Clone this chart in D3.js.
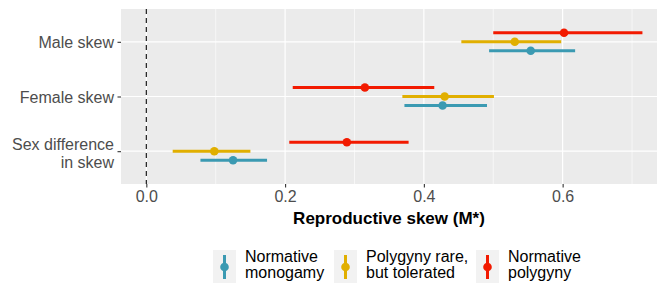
<!DOCTYPE html>
<html>
<head>
<meta charset="utf-8">
<script src="https://cdn.jsdelivr.net/npm/d3@7"></script>
<style>
  body { margin: 0; background: #fff; }
  text { font-family: "Liberation Sans", Arial, sans-serif; }
</style>
</head>
<body>
<div class="chart"></div>
<script>
// categories, top to bottom
const measures = ["Male skew", "Female skew", "Sex difference in skew"];
const groups = ["Normative monogamy", "Polygyny rare, but tolerated", "Normative polygyny"];
const groupColors = ["#3B9AB2", "#E1AF00", "#F21A00"];
const xTicks = [0, 0.2, 0.4, 0.6];

// estimates per group, in order of measures
const monoEst = [0.554, 0.427, 0.125];
const monoLo = [0.494, 0.372, 0.078];
const monoHi = [0.618, 0.491, 0.174];

const rareEst = [0.531, 0.430, 0.098];
const rareLo = [0.454, 0.369, 0.038];
const rareHi = [0.598, 0.501, 0.150];

const polyEst = [0.602, 0.315, 0.289];
const polyLo = [0.500, 0.211, 0.206];
const polyHi = [0.715, 0.415, 0.378];

const series = [
  { est: monoEst, lo: monoLo, hi: monoHi },
  { est: rareEst, lo: rareLo, hi: rareHi },
  { est: polyEst, lo: polyLo, hi: polyHi }
];

const W = 665, H = 288;
const margin = { top: 9, right: 8, bottom: 104, left: 121 };
const pw = W - margin.left - margin.right;
const ph = H - margin.top - margin.bottom;
const fs = "16px";

const svg = d3.select(".chart").append("svg")
  .attr("width", W)
  .attr("height", H);

const x = d3.scaleLinear().domain([-0.0365, 0.736]).range([0, pw]);
const y = d3.scalePoint().domain(measures).range([0, ph]).padding(0.6);
// dodge offsets: monogamy below, polygyny above
const dodge = d3.scalePoint().domain(groups).range([9, -9]);

const g = svg.append("g").attr("transform", `translate(${margin.left},${margin.top})`);

g.append("rect").attr("width", pw).attr("height", ph).attr("fill", "#EBEBEB");

// minor grid
g.selectAll("line.minor").data([0.1, 0.3, 0.5, 0.7]).join("line")
  .attr("x1", d => x(d)).attr("x2", d => x(d))
  .attr("y1", 0).attr("y2", ph)
  .attr("stroke", "#fff").attr("stroke-width", 0.6);

// major grid
g.selectAll("line.majx").data(xTicks).join("line")
  .attr("x1", d => x(d)).attr("x2", d => x(d))
  .attr("y1", 0).attr("y2", ph)
  .attr("stroke", "#fff").attr("stroke-width", 1.2);

g.selectAll("line.majy").data(measures).join("line")
  .attr("x1", 0).attr("x2", pw)
  .attr("y1", d => y(d)).attr("y2", d => y(d))
  .attr("stroke", "#fff").attr("stroke-width", 1.2);

// reference line at zero
g.append("line")
  .attr("x1", x(0)).attr("x2", x(0))
  .attr("y1", 0).attr("y2", ph)
  .attr("stroke", "#1a1a1a").attr("stroke-width", 1.2)
  .attr("stroke-dasharray", "5,4");

// pointranges
series.forEach((s, gi) => {
  const col = groupColors[gi];
  const sg = g.append("g");
  measures.forEach((m, mi) => {
    const yy = y(m) + dodge(groups[gi]);
    sg.append("line")
      .attr("x1", x(s.lo[mi])).attr("x2", x(s.hi[mi]))
      .attr("y1", yy).attr("y2", yy)
      .attr("stroke", col).attr("stroke-width", 3);
    sg.append("circle")
      .attr("cx", x(s.est[mi])).attr("cy", yy).attr("r", 4.3)
      .attr("fill", col);
  });
});

// x axis
const xAxis = g.append("g")
  .attr("transform", `translate(0,${ph})`)
  .call(d3.axisBottom(x).tickValues(xTicks).tickFormat(d3.format(".1f")).tickSize(3.5).tickPadding(3));
xAxis.select(".domain").remove();
xAxis.selectAll("line").attr("stroke", "#333").attr("stroke-width", 1.1);
xAxis.selectAll("text").attr("fill", "#4d4d4d").style("font-size", fs)
  .style("font-family", "'Liberation Sans', Arial, sans-serif");

// y axis
const yAxis = g.append("g")
  .call(d3.axisLeft(y).tickSize(3.5).tickPadding(3).tickFormat(""));
yAxis.select(".domain").remove();
yAxis.selectAll("line").attr("stroke", "#333").attr("stroke-width", 1.1);
yAxis.selectAll(".tick").each(function(d) {
  const t = d3.select(this).append("text")
    .attr("x", -7).attr("text-anchor", "end")
    .attr("fill", "#4d4d4d").style("font-size", fs);
  if (d === "Sex difference in skew") {
    t.append("tspan").attr("x", -7).attr("dy", -1.5).text("Sex difference");
    t.append("tspan").attr("x", -7).attr("dy", 17.5).text("in skew");
  } else {
    t.attr("dy", "0.35em").text(d);
  }
});

// axis title
svg.append("text")
  .attr("x", margin.left + pw / 2).attr("y", 224)
  .attr("text-anchor", "middle")
  .style("font-size", "17px").style("font-weight", "bold")
  .attr("fill", "#000")
  .text("Reproductive skew (M*)");

// legend
const legendLabels = [["Normative", "monogamy"], ["Polygyny rare,", "but tolerated"], ["Normative", "polygyny"]];
const legendX = [213, 334, 476];
const leg = svg.append("g").attr("transform", "translate(0,250)");
groups.forEach((gr, i) => {
  const k = leg.append("g").attr("transform", `translate(${legendX[i]},0)`);
  k.append("rect").attr("width", 23).attr("height", 33).attr("fill", "#F2F2F2");
  k.append("line").attr("x1", 11.5).attr("x2", 11.5).attr("y1", 5).attr("y2", 29)
    .attr("stroke", groupColors[i]).attr("stroke-width", 3);
  k.append("circle").attr("cx", 11.5).attr("cy", 17).attr("r", 4.3).attr("fill", groupColors[i]);
  const t = k.append("text").attr("x", 32).attr("y", 12).style("font-size", fs).attr("fill", "#000");
  t.append("tspan").attr("x", 32).text(legendLabels[i][0]);
  t.append("tspan").attr("x", 32).attr("dy", 16).text(legendLabels[i][1]);
});
</script>
</body>
</html>
